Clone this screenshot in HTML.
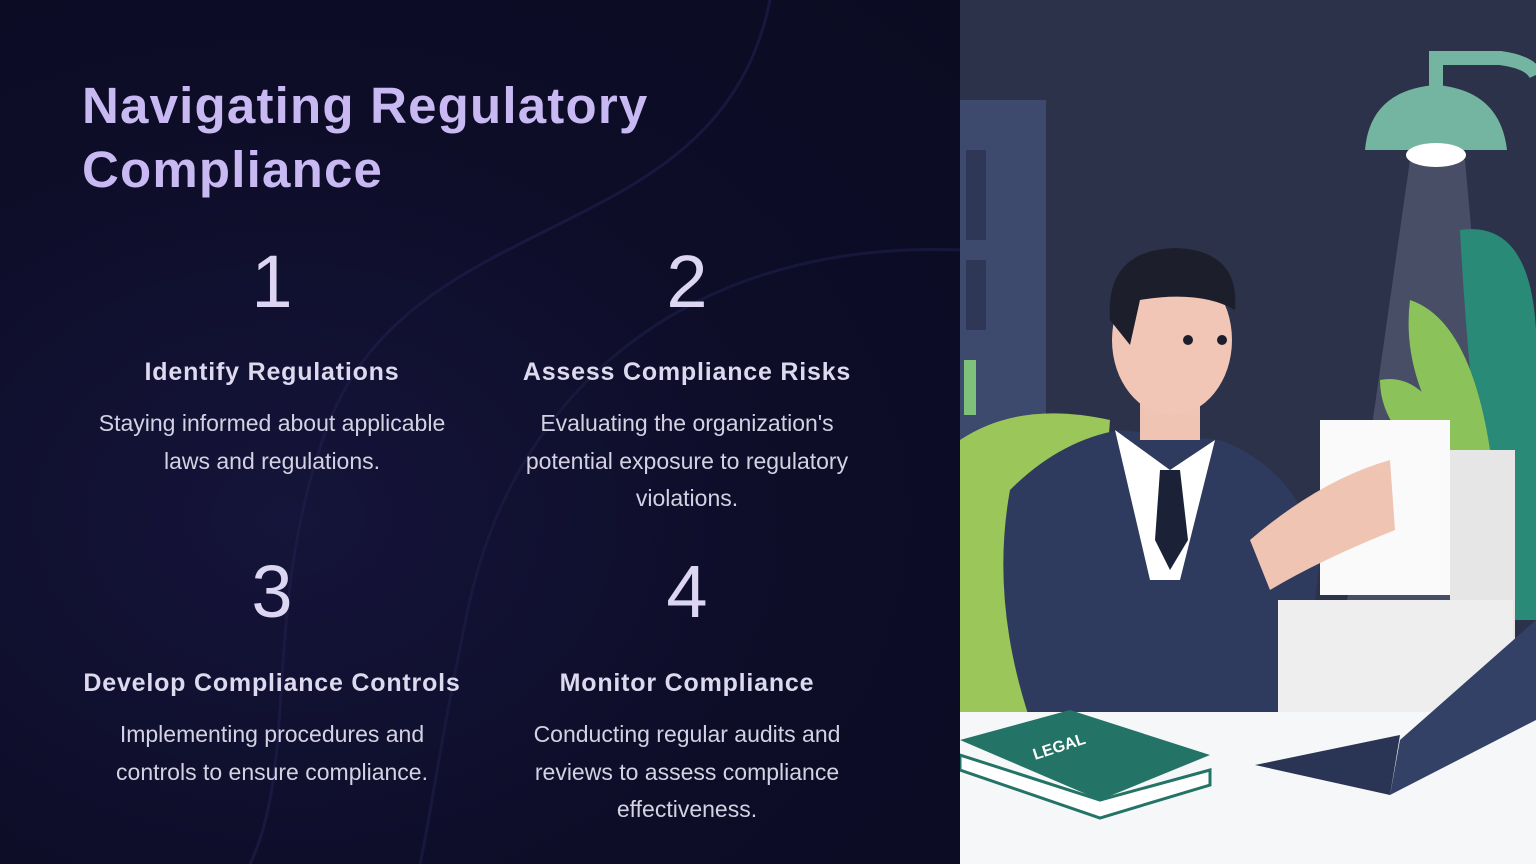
<!DOCTYPE html>
<html><head><meta charset="utf-8"><style>
html,body{margin:0;padding:0;width:1536px;height:864px;overflow:hidden;background:#0d0d26;font-family:"Liberation Sans",sans-serif}
#left{position:absolute;left:0;top:0;width:960px;height:864px;background:radial-gradient(ellipse at 30% 60%,#15143a 0%,#0d0d28 55%,#0b0b22 100%)}
h1{position:absolute;left:82px;top:74px;margin:0;font-size:51px;line-height:64px;font-weight:600;color:#c9b9f2;letter-spacing:1.2px}
.c{position:absolute;width:460px;text-align:center;color:#dcd8ec}
.n{font-size:74px;line-height:80px;color:#dcd6f2}
.h{font-size:25px;font-weight:600;color:#ddd9ee;letter-spacing:0.8px}
.b{font-size:23px;line-height:37.5px;color:#d4d2e2}
</style></head><body>
<div id="left">
<svg width="960" height="864" style="position:absolute;left:0;top:0">
<path d="M770 0 C720 250 420 200 330 420 C260 600 300 760 250 864" stroke="#1f1d48" stroke-width="3" fill="none" opacity="0.7"/>
<path d="M960 250 C700 240 520 380 470 600 C440 740 430 820 420 864" stroke="#1d1c44" stroke-width="3" fill="none" opacity="0.7"/>
</svg>
<h1>Navigating Regulatory<br>Compliance</h1>
<div class="c" style="left:42px;top:242px"><div class="n">1</div></div>
<div class="c" style="left:457px;top:242px"><div class="n">2</div></div>
<div class="c" style="left:42px;top:552px"><div class="n">3</div></div>
<div class="c" style="left:457px;top:552px"><div class="n">4</div></div>
<div class="c h" style="left:42px;top:358px">Identify Regulations</div>
<div class="c h" style="left:457px;top:358px">Assess Compliance Risks</div>
<div class="c h" style="left:42px;top:669px">Develop Compliance Controls</div>
<div class="c h" style="left:457px;top:669px">Monitor Compliance</div>
<div class="c b" style="left:42px;top:405px">Staying informed about applicable<br>laws and regulations.</div>
<div class="c b" style="left:457px;top:405px">Evaluating the organization's<br>potential exposure to regulatory<br>violations.</div>
<div class="c b" style="left:42px;top:716px">Implementing procedures and<br>controls to ensure compliance.</div>
<div class="c b" style="left:457px;top:716px">Conducting regular audits and<br>reviews to assess compliance<br>effectiveness.</div>
</div>
<svg width="576" height="864" viewBox="960 0 576 864" style="position:absolute;left:960px;top:0">
<rect x="960" y="0" width="576" height="864" fill="#2c3249"/>
<rect x="960" y="100" width="86" height="620" fill="#3d4a6e"/>
<rect x="966" y="150" width="20" height="90" fill="#2e3755"/>
<rect x="966" y="260" width="20" height="70" fill="#2e3755"/>
<rect x="964" y="360" width="12" height="55" fill="#7fc07a"/>
<polygon points="1410,160 1465,160 1515,720 1330,720" fill="#5b6178" opacity="0.6"/>
<path d="M1436 90 L1436 58 L1500 58 Q1530 62 1536 75" stroke="#74b5a1" stroke-width="14" fill="none"/>
<path d="M1365 150 Q1370 90 1436 85 Q1500 90 1507 150 Z" fill="#74b5a1"/>
<ellipse cx="1436" cy="155" rx="30" ry="12" fill="#ffffff"/>
<path d="M1460 230 Q1530 220 1536 330 L1536 620 L1500 620 Q1470 420 1460 230Z" fill="#2a8a78"/>
<path d="M1410 300 Q1470 320 1490 450 L1460 460 Q1400 380 1410 300Z" fill="#8bc35a"/>
<path d="M1380 380 Q1430 370 1460 460 L1440 470 Q1380 430 1380 380Z" fill="#8bc35a"/>
<path d="M960 440 Q1020 400 1110 420 L1100 560 L1040 720 L960 720Z" fill="#9ac65a"/>
<path d="M1010 490 Q1060 440 1120 430 L1220 440 Q1300 470 1320 560 L1300 720 L1030 720 Q990 600 1010 490Z" fill="#2e3a5e"/>
<polygon points="1115,430 1170,470 1215,440 1180,580 1150,580" fill="#ffffff"/>
<polygon points="1160,470 1180,470 1188,540 1170,570 1155,540" fill="#1b2238"/>
<rect x="1140" y="380" width="60" height="60" fill="#efc4b3"/>
<ellipse cx="1172" cy="340" rx="60" ry="75" fill="#f2c6b6"/>
<path d="M1110 320 Q1105 250 1175 248 Q1240 250 1235 310 Q1200 290 1140 300 L1130 345 Z" fill="#1c1f2b"/>
<circle cx="1188" cy="340" r="5" fill="#1c1f2b"/><circle cx="1222" cy="340" r="5" fill="#1c1f2b"/>
<path d="M1320 420 L1450 420 L1450 595 L1320 595Z" fill="#fafafa"/>
<rect x="1450" y="450" width="65" height="265" fill="#e6e6e6"/>
<rect x="1278" y="600" width="235" height="115" fill="#eeeeee"/>
<path d="M1250 540 Q1320 480 1390 460 L1395 530 Q1320 560 1270 590Z" fill="#efc4b3"/>
<rect x="960" y="712" width="576" height="152" fill="#f6f7f8"/>
<polygon points="1400,740 1536,620 1536,720 1390,795" fill="#334166"/>
<polygon points="1255,765 1400,735 1390,795" fill="#2a3555"/>
<polygon points="960,740 1070,710 1210,755 1100,800" fill="#237466"/>
<polygon points="960,755 1100,800 1210,770 1210,785 1100,818 960,770" fill="#ffffff" stroke="#237466" stroke-width="3"/>
<text x="1035" y="760" fill="#ffffff" font-family="Liberation Sans" font-weight="bold" font-size="16" transform="rotate(-18 1035 760)">LEGAL</text>
</svg>
</body></html>
